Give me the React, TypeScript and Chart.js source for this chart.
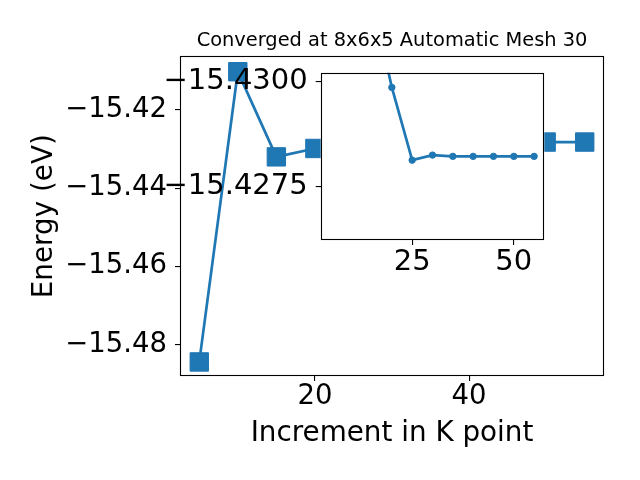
import React, { useEffect, useRef } from "react";
import { Chart, registerables } from "chart.js";

Chart.register(...registerables);

const kPoints = [5, 10, 15, 20, 25, 30, 35, 40, 45, 50, 55];
const energies = [
  -15.4845, -15.4102, -15.432, -15.42985, -15.42812, -15.42824, -15.42821,
  -15.42821, -15.42821, -15.42821, -15.42821,
];
// the inset plot starts at the third k point (15)
const insetFirstIndex = 2;
const mainXTicks = [20, 40];
const mainYTicks = [-15.48, -15.46, -15.44, -15.42];
const insetXTicks = [25, 50];
const insetYTicks = [-15.43, -15.4275];
const titleText = "Converged at 8x6x5 Automatic Mesh 30";
const xTitle = "Increment in K point";
const yTitle = "Energy (eV)";

const BLUE = "#1f77b4";
const FONT = "'DejaVu Sans', sans-serif";

const fmt = (v: number, d: number) =>
  (v < 0 ? "\u2212" : "") + Math.abs(v).toFixed(d);

const framePlugin = {
  id: "frame",
  beforeDraw(chart: any, _a: any, opts: any) {
    if (opts && opts.fill) {
      const { left, top, right, bottom } = chart.chartArea;
      const ctx = chart.ctx;
      ctx.save();
      ctx.fillStyle = "#ffffff";
      ctx.fillRect(left, top, right - left, bottom - top);
      ctx.restore();
    }
  },
  afterDraw(chart: any) {
    const { left, top, right, bottom } = chart.chartArea;
    const ctx = chart.ctx;
    ctx.save();
    ctx.strokeStyle = "#000000";
    ctx.lineWidth = 1.1;
    const l = Math.round(left) + 0.5;
    const t = Math.round(top) + 0.5;
    const r = Math.round(right) - 0.5;
    const b = Math.round(bottom) - 0.5;
    ctx.strokeRect(l, t, r - l, b - t);
    ctx.restore();
  },
};

function makeData(
  xs: number[],
  ys: number[],
  pointStyle: string,
  radius: number
) {
  return {
    datasets: [
      {
        data: xs.map((x, i) => ({ x, y: ys[i] })),
        borderColor: BLUE,
        backgroundColor: BLUE,
        borderWidth: 2.7,
        pointStyle,
        pointRadius: radius,
        pointBorderWidth: 1,
        pointBorderColor: BLUE,
        pointBackgroundColor: BLUE,
        tension: 0,
      },
    ],
  };
}

export default function App() {
  const mainRef = useRef<HTMLCanvasElement>(null);
  const insetRef = useRef<HTMLCanvasElement>(null);

  useEffect(() => {
    const main = new Chart(mainRef.current as HTMLCanvasElement, {
      type: "line",
      data: makeData(kPoints, energies, "rect", 13) as any,
      plugins: [framePlugin],
      options: {
        animation: false,
        responsive: false,
        events: [],
        layout: { padding: { left: 0, right: 36, top: 0, bottom: 0 } },
        plugins: {
          legend: { display: false },
          tooltip: { enabled: false },
          frame: { fill: false },
          title: {
            display: true,
            text: titleText,
            fullSize: false,
            color: "#000",
            font: { family: FONT, size: 19.4, weight: "normal", lineHeight: 1.2 },
            padding: { top: 28.9, bottom: 4.3 },
          },
        } as any,
        scales: {
          x: {
            type: "linear",
            min: 2.5,
            max: 57.5,
            afterBuildTicks: (axis: any) => {
              axis.ticks = mainXTicks.map((v) => ({ value: v }));
            },
            afterFit: (axis: any) => {
              axis.height = 104;
            },
            border: { display: false },
            grid: {
              drawOnChartArea: false,
              drawTicks: true,
              tickLength: 5,
              color: "#000",
              lineWidth: 1.1,
            },
            ticks: {
              color: "#000",
              padding: 2.5,
              maxRotation: 0,
              font: { family: FONT, size: 27.5, lineHeight: 1.0 },
              callback: (v: any) => String(v),
            },
            title: {
              display: true,
              text: xTitle,
              color: "#000",
              font: { family: FONT, size: 27.8, lineHeight: 1.2 },
              padding: { top: 0, bottom: 30 },
            },
          },
          y: {
            type: "linear",
            min: -15.4881,
            max: -15.4063,
            afterBuildTicks: (axis: any) => {
              axis.ticks = mainYTicks.map((v) => ({ value: v }));
            },
            afterFit: (axis: any) => {
              axis.width = 180;
            },
            border: { display: false },
            grid: {
              drawOnChartArea: false,
              drawTicks: true,
              tickLength: 5,
              color: "#000",
              lineWidth: 1.1,
            },
            ticks: {
              color: "#000",
              padding: 8,
              font: { family: FONT, size: 27.5, lineHeight: 1.0 },
              callback: (v: any) => fmt(Number(v), 2),
            },
            title: {
              display: true,
              text: yTitle,
              color: "#000",
              font: { family: FONT, size: 27.8, lineHeight: 1.2 },
              padding: { top: 27.6, bottom: 0 },
            },
          },
        },
      } as any,
    });

    const inset = new Chart(insetRef.current as HTMLCanvasElement, {
      type: "line",
      data: makeData(
        kPoints.slice(insetFirstIndex),
        energies.slice(insetFirstIndex),
        "circle",
        3.2
      ) as any,
      plugins: [framePlugin],
      options: {
        animation: false,
        responsive: false,
        events: [],
        layout: { padding: { left: 0, right: 15.7, top: 52.7, bottom: 0 } },
        plugins: {
          legend: { display: false },
          tooltip: { enabled: false },
          frame: { fill: true },
        } as any,
        scales: {
          x: {
            type: "linear",
            min: 2.5,
            max: 57.5,
            afterBuildTicks: (axis: any) => {
              axis.ticks = insetXTicks.map((v) => ({ value: v }));
            },
            afterFit: (axis: any) => {
              axis.height = 60;
            },
            border: { display: false },
            grid: {
              drawOnChartArea: false,
              drawTicks: true,
              tickLength: 5,
              color: "#000",
              lineWidth: 1.1,
            },
            ticks: {
              color: "#000",
              padding: 3,
              maxRotation: 0,
              font: { family: FONT, size: 29, lineHeight: 1.0 },
              callback: (v: any) => String(v),
            },
          },
          y: {
            type: "linear",
            reverse: true,
            min: -15.4302,
            max: -15.42622,
            afterBuildTicks: (axis: any) => {
              axis.ticks = insetYTicks.map((v) => ({ value: v }));
            },
            afterFit: (axis: any) => {
              axis.width = 170.7;
            },
            border: { display: false },
            grid: {
              drawOnChartArea: false,
              drawTicks: true,
              tickLength: 5,
              color: "#000",
              lineWidth: 1.1,
            },
            ticks: {
              color: "#000",
              padding: 8,
              font: { family: FONT, size: 29, lineHeight: 1.0 },
              callback: (v: any) => fmt(Number(v), 4),
            },
          },
        },
      } as any,
    });

    return () => {
      main.destroy();
      inset.destroy();
    };
  }, []);

  return (
    <div
      style={{
        position: "absolute",
        left: 0,
        top: 0,
        width: 640,
        height: 480,
        background: "#ffffff",
        overflow: "hidden",
      }}
    >
      <canvas
        ref={mainRef}
        width={640}
        height={480}
        style={{ position: "absolute", left: 0, top: 0, display: "block" }}
      />
      <canvas
        ref={insetRef}
        width={410}
        height={280}
        style={{ position: "absolute", left: 150, top: 20, display: "block" }}
      />
    </div>
  );
}
